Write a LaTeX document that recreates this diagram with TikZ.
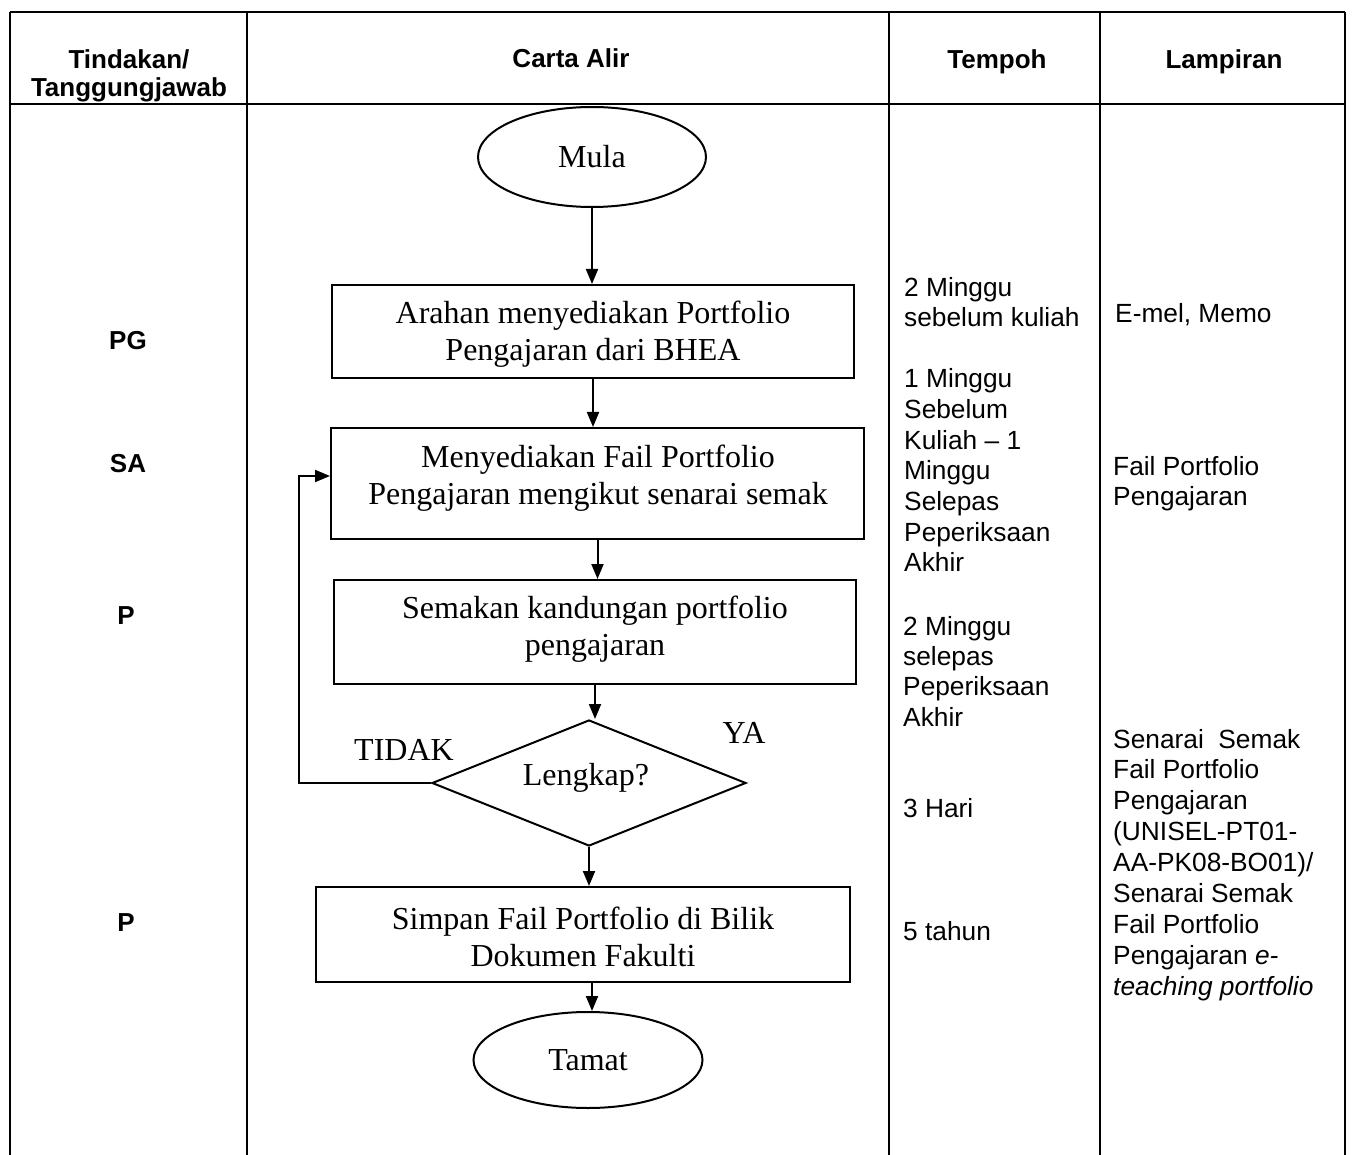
\documentclass[tikz,border=0pt]{standalone}
\usepackage{fontspec}
\setmainfont{Liberation Serif}
\setsansfont{Liberation Sans}
\usetikzlibrary{arrows.meta,shapes.geometric}
\begin{document}
\begin{tikzpicture}[x=1pt,y=-1pt,
  tbl/.style={line width=1.7pt},
  shp/.style={draw, line width=2pt, inner sep=0pt},
  boxshape/.style={shp, rectangle},
  flowfont/.style={font=\fontsize{32}{37}\selectfont, align=center, inner sep=0pt},
  hdr/.style={font=\sffamily\bfseries\fontsize{26}{30}\selectfont, inner sep=0pt, anchor=base},
  cell/.style={font=\sffamily\fontsize{26.3}{30.7}\selectfont, anchor=base west, inner sep=0pt},
  arr/.style={line width=2pt, -{Triangle[length=15pt,width=12pt]}},
  conn/.style={line width=2pt}
]
\useasboundingbox (0,0) rectangle (1352,1155);
\fill[white] (0,0) rectangle (1352,1155);

% table grid
\draw[tbl] (10,12) -- (1345,12);
\draw[tbl] (10,104) -- (1345,104);
\foreach \xx in {10,247,889,1100,1345} \draw[tbl] (\xx,12) -- (\xx,1155);

% headers
\node[hdr] (h1a) at (129,69) {Tindakan/};
\node[hdr] (h1b) at (129,97) {Tanggungjawab};
\node[hdr] (h2) at (571,68) {Carta Alir};
\node[hdr] (h3) at (997,69) {Tempoh};
\node[hdr] (h4) at (1224,69) {Lampiran};

% responsibility column
\node[hdr] (r1) at (128,350) {PG};
\node[hdr] (r2) at (128,472) {SA};
\node[hdr] (r3) at (126,624) {P};
\node[hdr] (r4) at (126,931) {P};

% Tempoh column
\node[cell] (ta1) at (904,297) {2 Minggu};
\node[cell] (ta2) at (904,327) {sebelum kuliah};
\foreach \t [count=\i] in {{1 Minggu}, {Sebelum}, {Kuliah – 1}, {Minggu}, {Selepas}, {Peperiksaan}, {Akhir}}
  \node[cell] (tb\i) at (904,{388+30.6*(\i-1)}) {\t};
\foreach \t [count=\i] in {{2 Minggu}, {selepas}, {Peperiksaan}, {Akhir}}
  \node[cell] (tc\i) at (903,{635+30.4*(\i-1)}) {\t};
\node[cell] (td) at (903,817) {3 Hari};
\node[cell] (te) at (903,940) {5 tahun};

% Lampiran column
\node[cell] (la) at (1115,323) {E-mel, Memo};
\node[cell] (lb1) at (1113,475) {Fail Portfolio};
\node[cell] (lb2) at (1113,505) {Pengajaran};
\foreach \t [count=\i] in {{Senarai\ \ Semak}, {Fail Portfolio}, {Pengajaran}, {(UNISEL-PT01-}, {AA-PK08-BO01)/}, {Senarai Semak}, {Fail Portfolio}, {Pengajaran \textit{e-}}, {\textit{teaching portfolio}}}
  \node[cell] (lc\i) at (1113,{748+30.9*(\i-1)}) {\t};

% flowchart
\node[ellipse, shp, minimum width=228pt, minimum height=100pt, flowfont] (mula) at (592,157) {Mula};

\node[boxshape, minimum width=522pt, minimum height=93pt] (b1) at (593,331.5) {};
\node[flowfont] (t1) at (593,334) {Arahan menyediakan Portfolio\\Pengajaran dari BHEA};

\node[boxshape, minimum width=533pt, minimum height=111pt] (b2) at (597.5,483.5) {};
\node[flowfont] (t2) at (598,478) {Menyediakan Fail Portfolio\\Pengajaran mengikut senarai semak};

\node[boxshape, minimum width=522pt, minimum height=104pt] (b3) at (595,632) {};
\node[flowfont] (t3) at (595,629.5) {Semakan kandungan portfolio\\pengajaran};

\node[diamond, shp, aspect=2.49, minimum width=314pt, minimum height=126pt] (dia) at (589,783) {};
\node[flowfont] (t4) at (586,778) {Lengkap?};
\node[flowfont] (tidak) at (404,750) {TIDAK};
\node[flowfont] (ya) at (744,733) {YA};

\node[boxshape, minimum width=534pt, minimum height=95pt] (b4) at (583,934.5) {};
\node[flowfont] (t5) at (583,936.5) {Simpan Fail Portfolio di Bilik\\Dokumen Fakulti};

\node[ellipse, shp, minimum width=229pt, minimum height=96pt, flowfont] (tamat) at (588,1060) {Tamat};

% connectors
\draw[arr] (mula.south) -- (mula.south |- b1.north);
\draw[arr] (b1.south) -- (b1.south |- b2.north);
\draw[arr] (b2.south) -- (b2.south |- b3.north);
\draw[arr] (b3.south) -- (b3.south |- dia.north);
\draw[arr] (dia.south) -- (dia.south |- b4.north);
\draw[arr] ([xshift=9pt]b4.south) -- ([xshift=9pt]b4.south |- tamat.north);
\coordinate (lp) at (299,476);
\draw[arr] (dia.west) -| (lp) -- (lp -| b2.west);
\end{tikzpicture}
\end{document}
